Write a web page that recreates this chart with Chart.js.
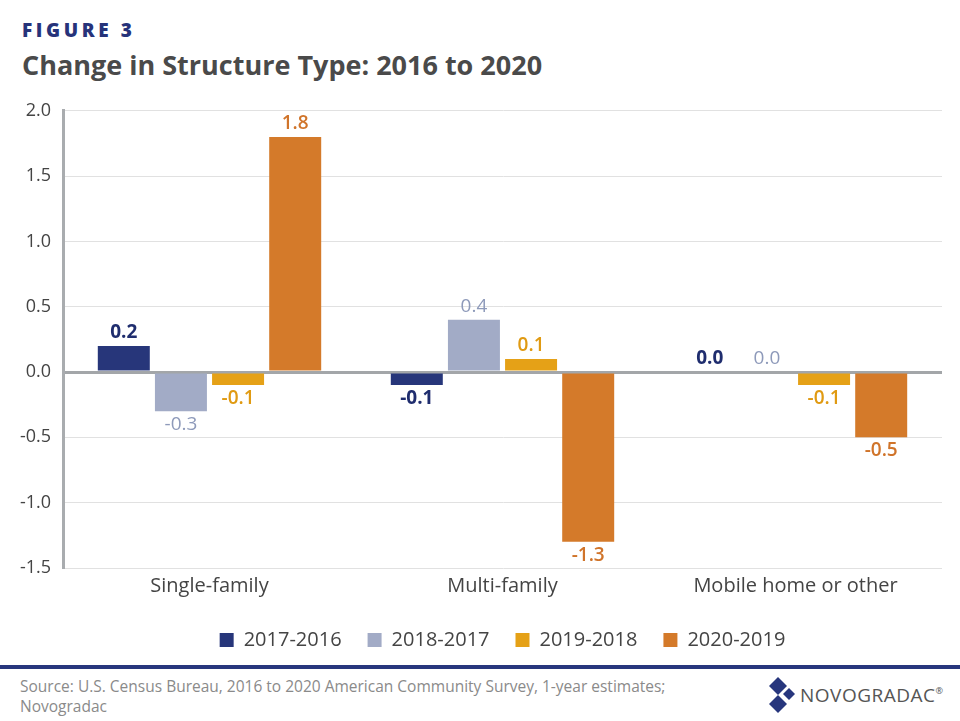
<!DOCTYPE html>
<html>
<head>
<meta charset="utf-8">
<script src="https://cdn.jsdelivr.net/npm/chart.js@4.4.1/dist/chart.umd.min.js"></script>
<style>
  html, body { margin: 0; padding: 0; background: #fff; }
  body { width: 960px; height: 721px; position: relative; overflow: hidden; font-family: "Open Sans", sans-serif; }
  .fig { position: absolute; left: 22px; top: 17px; font-size: 19px; font-weight: 800; color: #26337a; letter-spacing: 3.6px; }
  .title { position: absolute; left: 22px; top: 46px; font-size: 27px; font-weight: 700; color: #4a4a4a; }
  .chart-box { position: absolute; left: 0; top: 88px; width: 960px; height: 572px; }
  .rule { position: absolute; left: 0; top: 665px; width: 960px; height: 4px; background: #27367d; }
  .source { position: absolute; left: 20px; top: 676px; font-size: 15.5px; line-height: 20px; color: #8a8a8a; }
  .logo { position: absolute; left: 768px; top: 676px; }
  .logo-text { position: absolute; left: 800px; top: 682px; font-size: 19px; color: #555; letter-spacing: 0.5px; }
  .logo-text sup { font-size: 9px; vertical-align: 8px; }
</style>
</head>
<body>
<div class="fig">FIGURE 3</div>
<div class="title">Change in Structure Type: 2016 to 2020</div>
<div class="chart-box"><canvas id="structureChart"></canvas></div>
<div class="rule"></div>
<div class="source">Source: U.S. Census Bureau, 2016 to 2020 American Community Survey, 1-year estimates;<br>Novogradac</div>
<svg class="logo" width="30" height="40" viewBox="0 0 30 40">
  <polygon points="10,1 19,10 10,19 1,10" fill="#27367d"/>
  <polygon points="21,12 27,18 21,24 15,18" fill="#27367d"/>
  <polygon points="10,19 19,28 10,37 1,28" fill="#27367d"/>
</svg>
<div class="logo-text">NOVOGRADAC<sup>®</sup></div>

<script>
// Categories and series
const categories = ['Single-family', 'Multi-family', 'Mobile home or other'];
const seriesLabels = ['2017-2016', '2018-2017', '2019-2018', '2020-2019'];
const change2017 = [0.2, -0.1, 0.0];
const change2018 = [-0.3, 0.4, 0.0];
const change2019 = [-0.1, 0.1, -0.1];
const change2020 = [1.8, -1.3, -0.5];
const yTicks = [2.0, 1.5, 1.0, 0.5, 0.0, -0.5, -1.0, -1.5];

const barColors = ['#27367a', '#a2abc6', '#e5a117', '#d47a2a'];
const labelColors = ['#1f2d6e', '#8e9aba', '#e09a12', '#d0742a'];
const labelWeights = ['700', '400', '600', '600'];

// Draws the value labels above / below each bar
const valueLabels = {
  id: 'valueLabels',
  afterDatasetsDraw(chart) {
    const ctx = chart.ctx;
    ctx.save();
    chart.data.datasets.forEach((ds, i) => {
      const meta = chart.getDatasetMeta(i);
      meta.data.forEach((bar, j) => {
        const v = ds.data[j];
        ctx.font = labelWeights[i] + ' 19px "Open Sans"';
        ctx.fillStyle = labelColors[i];
        ctx.textAlign = 'center';
        if (v >= 0) {
          ctx.textBaseline = 'bottom';
          ctx.fillText(v.toFixed(1), bar.x, bar.y - 4);
        } else {
          ctx.textBaseline = 'top';
          ctx.fillText(v.toFixed(1), bar.x, bar.y + 4);
        }
      });
    });
    ctx.restore();
  }
};

const allData = [change2017, change2018, change2019, change2020];

new Chart(document.getElementById('structureChart'), {
  type: 'bar',
  data: {
    labels: categories,
    datasets: allData.map((d, i) => ({
      label: seriesLabels[i],
      data: d,
      backgroundColor: barColors[i],
      borderWidth: 0,
      barPercentage: 0.91,
      categoryPercentage: 0.78
    }))
  },
  options: {
    responsive: true,
    maintainAspectRatio: false,
    animation: false,
    layout: { padding: { top: 8, right: 18, left: 0, bottom: 0 } },
    plugins: {
      legend: {
        position: 'bottom',
        fullSize: false,
        labels: {
          boxWidth: 14,
          boxHeight: 14,
          padding: 26,
          color: '#444',
          font: { family: 'Open Sans', size: 20 }
        }
      },
      tooltip: { enabled: false }
    },
    scales: {
      x: {
        grid: { display: false, drawTicks: false },
        border: { display: false },
        ticks: {
          color: '#444',
          padding: 8,
          font: { family: 'Open Sans', size: 20, lineHeight: 1.0 }
        }
      },
      y: {
        min: -1.5,
        max: 2.0,
        afterFit(scale) { scale.width = 63; },
        afterBuildTicks(scale) { scale.ticks = yTicks.map(v => ({ value: v })); },
        border: { display: true, color: '#a9acaf', width: 3 },
        grid: {
          drawTicks: false,
          color: ctx => ctx.tick && ctx.tick.value === 0 ? '#a3a6a9' : '#e1e1e1',
          lineWidth: ctx => ctx.tick && ctx.tick.value === 0 ? 3 : 1
        },
        ticks: {
          color: '#444',
          padding: 12,
          font: { family: 'Open Sans', size: 18 },
          callback: v => v.toFixed(1)
        }
      }
    }
  },
  plugins: [valueLabels]
});
</script>
</body>
</html>
